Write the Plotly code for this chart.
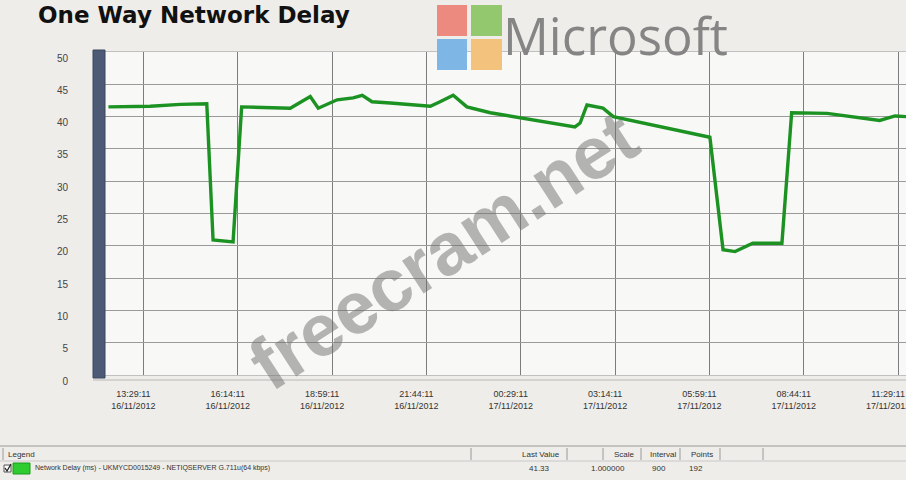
import plotly.graph_objects as go

# ---- data ----
times = ["2012-11-16 12:28", "2012-11-16 13:41", "2012-11-16 14:34", "2012-11-16 15:20",
         "2012-11-16 15:31", "2012-11-16 16:06", "2012-11-16 16:21", "2012-11-16 17:46",
         "2012-11-16 18:21", "2012-11-16 18:35", "2012-11-16 19:08", "2012-11-16 19:36",
         "2012-11-16 19:52", "2012-11-16 20:09", "2012-11-16 20:41", "2012-11-16 21:51",
         "2012-11-16 22:08", "2012-11-16 22:31", "2012-11-16 22:55", "2012-11-16 23:36",
         "2012-11-17 02:04", "2012-11-17 02:13", "2012-11-17 02:25", "2012-11-17 02:53",
         "2012-11-17 03:11", "2012-11-17 04:20", "2012-11-17 06:00", "2012-11-17 06:23",
         "2012-11-17 06:44", "2012-11-17 07:15", "2012-11-17 08:06", "2012-11-17 08:23",
         "2012-11-17 09:25", "2012-11-17 10:57", "2012-11-17 11:24", "2012-11-17 11:43"]
delay_ms = [41.5, 41.6, 41.9, 42.0,
            20.9, 20.6, 41.5, 41.3,
            43.1, 41.3, 42.6, 42.9,
            43.3, 42.3, 42.1, 41.6,
            42.3, 43.3, 41.5, 40.6,
            38.4, 39.0, 41.8, 41.3,
            40.0, 38.7, 36.8, 19.4,
            19.1, 20.4, 20.4, 40.6,
            40.5, 39.4, 40.1, 40.0]

tick_vals = ["2012-11-16 13:29:11", "2012-11-16 16:14:11", "2012-11-16 18:59:11",
             "2012-11-16 21:44:11", "2012-11-17 00:29:11", "2012-11-17 03:14:11",
             "2012-11-17 05:59:11", "2012-11-17 08:44:11", "2012-11-17 11:29:11"]
tick_times = ["13:29:11", "16:14:11", "18:59:11", "21:44:11", "00:29:11",
              "03:14:11", "05:59:11", "08:44:11", "11:29:11"]
tick_dates = ["16/11/2012", "16/11/2012", "16/11/2012", "16/11/2012", "17/11/2012",
              "17/11/2012", "17/11/2012", "17/11/2012", "17/11/2012"]
tick_text = [f"{t}<br>{d}" for t, d in zip(tick_times, tick_dates)]

legend_series = "Network Delay (ms) - UKMYCD0015249 - NETIQSERVER G.711u(64 kbps)"
legend_cols = ["Last Value", "Scale", "Interval", "Points"]
legend_vals = ["41.33", "1.000000", "900", "192"]

# ---- geometry helpers (pixel -> paper) ----
W, H = 906, 480
L, R, T, B = 105, 0, 52, 105
PW, PH = W - L - R, H - T - B


def px(x):
    return (x - L) / PW


def py(y):
    return (H - B - y) / PH


fig = go.Figure()
fig.add_trace(go.Scatter(x=times, y=delay_ms, mode="lines",
                         line=dict(color="#1c9222", width=3.4),
                         showlegend=False, hoverinfo="x+y"))

shapes = []
# 3D left wall
shapes.append(dict(type="rect", xref="paper", yref="paper",
                   x0=px(93), x1=px(105), y0=py(378), y1=py(50),
                   fillcolor="#4d5a76", line=dict(color="#3b465e", width=1), layer="above"))
# floor edge
shapes.append(dict(type="line", xref="paper", yref="paper",
                   x0=px(93), x1=1, y0=py(380), y1=py(380),
                   line=dict(color="#b8b8b8", width=1)))
# legend box lines
shapes.append(dict(type="line", xref="paper", yref="paper",
                   x0=px(0), x1=1, y0=py(446), y1=py(446),
                   line=dict(color="#9a9a9a", width=1)))
shapes.append(dict(type="line", xref="paper", yref="paper",
                   x0=px(0), x1=1, y0=py(461), y1=py(461),
                   line=dict(color="#c8c8c8", width=1)))
for xv in [3, 471, 567, 603, 641, 680, 720, 763]:
    shapes.append(dict(type="line", xref="paper", yref="paper",
                       x0=px(xv), x1=px(xv), y0=py(448), y1=py(460),
                       line=dict(color="#9a9a9a", width=1)))
# legend check box + colour swatch
shapes.append(dict(type="rect", xref="paper", yref="paper",
                   x0=px(4), x1=px(11), y0=py(472), y1=py(465),
                   fillcolor="#ffffff", line=dict(color="#555", width=1)))
shapes.append(dict(type="path", xref="paper", yref="paper",
                   path=f"M {px(5)},{py(468)} L {px(7)},{py(471)} L {px(11)},{py(464)}",
                   line=dict(color="#222", width=1.3)))
shapes.append(dict(type="rect", xref="paper", yref="paper",
                   x0=px(13), x1=px(30), y0=py(474), y1=py(463),
                   fillcolor="#2ecc2e", line=dict(color="#1a9a1a", width=1)))
# Microsoft logo squares
logo = [(437, 467, 5, 36, "#ec8a80"), (471, 502, 5, 36, "#93c86e"),
        (437, 467, 39, 70, "#7eb6e6"), (471, 502, 39, 70, "#f3c27c")]
for x0, x1, y0, y1, c in logo:
    shapes.append(dict(type="rect", xref="paper", yref="paper",
                       x0=px(x0), x1=px(x1), y0=py(y1), y1=py(y0),
                       fillcolor=c, line=dict(width=0), layer="above"))

ann = []
ann.append(dict(text="<b>One Way Network Delay</b>", xref="paper", yref="paper",
                x=px(36), y=py(15), xanchor="left", yanchor="middle", showarrow=False,
                font=dict(family="DejaVu Sans", size=23, color="#111111")))
ann.append(dict(text="Microsoft", xref="paper", yref="paper",
                x=px(501), y=py(35), xanchor="left", yanchor="middle", showarrow=False,
                font=dict(family="Open Sans", size=51, color="#858585")))
ann.append(dict(text="<b>freecram.net</b>", xref="paper", yref="paper",
                x=px(443), y=py(250), xanchor="center", yanchor="middle", showarrow=False,
                textangle=-33, opacity=0.5,
                font=dict(family="Liberation Sans", size=74, color="#707070")))
ann.append(dict(text="Legend", xref="paper", yref="paper",
                x=px(6), y=py(454), xanchor="left", yanchor="middle", showarrow=False,
                font=dict(family="Liberation Sans", size=8, color="#333")))
ann.append(dict(text=legend_series, xref="paper", yref="paper",
                x=px(33), y=py(468), xanchor="left", yanchor="middle", showarrow=False,
                font=dict(family="Liberation Sans", size=7, color="#333")))
col_right = [562, 637, 678, 715]
for xr, name, val in zip(col_right, legend_cols, legend_vals):
    ann.append(dict(text=name, xref="paper", yref="paper",
                    x=px(xr), y=py(454), xanchor="right", yanchor="middle", showarrow=False,
                    font=dict(family="Liberation Sans", size=8, color="#333")))
    ann.append(dict(text=val, xref="paper", yref="paper",
                    x=px(xr - 10), y=py(468), xanchor="right", yanchor="middle", showarrow=False,
                    font=dict(family="Liberation Sans", size=8, color="#333")))

fig.update_layout(
    width=W, height=H,
    margin=dict(l=L, r=R, t=T, b=B, pad=0, autoexpand=False),
    paper_bgcolor="#efede9",
    plot_bgcolor="#f8f8f6",
    shapes=shapes,
    annotations=ann,
    showlegend=False,
    xaxis=dict(type="date", range=["2012-11-16 12:22", "2012-11-17 11:43"],
               tickvals=tick_vals, ticktext=tick_text, automargin=False,
               ticklabeloverflow="allow", ticklabelshift=-10,
               showgrid=True, gridcolor="#7d7d7d", gridwidth=1,
               ticks="outside", ticklen=10, tickcolor="rgba(0,0,0,0)",
               tickfont=dict(family="Liberation Sans", size=9, color="#333"),
               showline=True, linecolor="#c0c0c0", mirror=True, zeroline=False),
    yaxis=dict(range=[0, 50], tickvals=list(range(0, 55, 5)), automargin=False,
               ticklabelshift=6,
               showgrid=True, gridcolor="#9a9a9a", gridwidth=1,
               ticks="outside", ticklen=34, tickcolor="rgba(0,0,0,0)",
               tickfont=dict(family="Liberation Sans", size=10, color="#444"),
               showline=True, linecolor="#c0c0c0", mirror=True, zeroline=False),
)

fig.write_html("out.html", config={"displayModeBar": False},
               post_script="document.body.style.margin='0';document.body.style.overflow='hidden';")
